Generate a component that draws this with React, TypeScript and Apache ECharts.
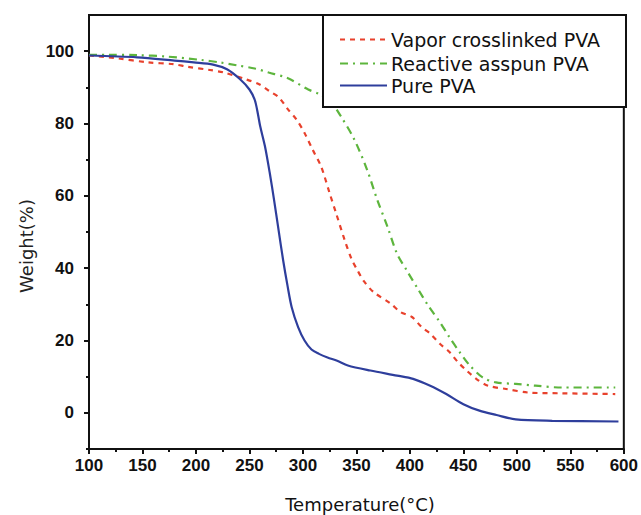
import React, { useEffect, useRef } from "react";
import * as echarts from "echarts";

const xTicks = [100, 150, 200, 250, 300, 350, 400, 450, 500, 550, 600];
const yMajorTicks = [0, 20, 40, 60, 80, 100];
const yMinorTicks = [-10, 10, 30, 50, 70, 90];

const seriesNames = ["Vapor crosslinked PVA", "Reactive asspun PVA", "Pure PVA"];

const vaporCrosslinked: [number, number][] = [
  [100, 98.8], [127, 98], [155, 96.9], [179, 96.4], [192, 95.7], [213, 94.8], [226, 94.1],
  [247, 92.2], [259.5, 90.8], [268.5, 89], [277.5, 87.2], [286, 83.9], [294, 81.1],
  [301.5, 77.4], [309, 72.8], [317, 68.1], [325, 60.7], [331, 55.2], [339, 47.8],
  [345.5, 42.5], [351, 39.4], [357, 36.4], [366, 33.4], [382, 30.2], [391, 27.9],
  [402, 26.5], [411, 23.7], [419, 21.9], [428, 19.1], [437, 16.8], [445, 14], [453, 11.7],
  [462, 9.4], [473, 7.5], [490, 6.6], [511, 5.6], [542, 5.4], [592, 5.2],
];

const reactiveAsspun: [number, number][] = [
  [100, 99], [118, 99], [145, 98.9], [173, 98.5], [204, 97.6], [222, 96.9], [238, 96.1],
  [255, 95.2], [268, 94.1], [286, 92.5], [305, 89.4], [315.5, 88.1], [326, 86],
  [335.5, 82], [348, 75.6], [360, 67.2], [369.5, 58.9], [379, 51.5], [388, 44],
  [397, 39.4], [408, 34], [417, 29.7], [428, 25.1], [437, 20.9], [446.5, 16.8],
  [456, 13.1], [468, 9.8], [480.5, 8.4], [499, 8], [517.5, 7.5], [542, 7], [592, 7],
];

const purePVA: [number, number][] = [
  [100, 98.8], [145, 98.3], [180, 97.4], [198, 96.9], [216, 96.3], [229, 95], [241, 92.3],
  [250, 89.4], [255, 86.5], [258, 82.5], [260, 79.3], [264.5, 73.7], [269, 66.3],
  [273, 58.9], [277, 51], [281.5, 42.2], [285.5, 35.3], [289.5, 29.2], [295.5, 23.7],
  [301.5, 20], [308, 17.5], [315, 16.3], [323, 15.3], [332, 14.4], [342, 13.1],
  [363, 11.7], [388, 10.3], [403, 9.4], [419, 7.5], [434, 5.2], [450, 2.4], [465, 0.6],
  [481, -0.6], [499, -1.8], [533, -2.2], [595, -2.4],
];

const RED = "#e8412c";
const GREEN = "#5db53d";
const BLUE = "#2e3e9c";
const COLORS = [RED, GREEN, BLUE];
const DASHES: (number[] | null)[] = [[5, 5], [8, 5, 2, 5], null];

export default function App() {
  const ref = useRef<HTMLDivElement>(null);
  useEffect(() => {
    if (!ref.current) return;
    const chart = echarts.init(ref.current, undefined, { renderer: "svg" });
    const labelFont = {
      fontFamily: "'Liberation Sans Narrow', 'Liberation Sans', Arial, sans-serif",
      fontWeight: "bold" as const,
      fontSize: 17,
      color: "#111",
    };
    const legendFont = "'DejaVu Sans', Verdana, sans-serif";
    const legendRows = [39.5, 63.5, 85.5];
    const legendGraphics: any[] = [];
    seriesNames.forEach((name, i) => {
      legendGraphics.push({
        type: "line",
        z: 6,
        shape: { x1: 340, y1: legendRows[i], x2: 387, y2: legendRows[i] },
        style: {
          stroke: COLORS[i],
          lineWidth: 2.2,
          lineDash: DASHES[i] || undefined,
        },
      });
      legendGraphics.push({
        type: "text",
        z: 6,
        x: 391,
        y: legendRows[i],
        style: {
          text: name,
          align: "left",
          verticalAlign: "middle",
          fontFamily: legendFont,
          fontSize: 19,
          fill: "#111",
        },
      });
    });
    chart.setOption({
      animation: false,
      backgroundColor: "#fff",
      grid: {
        left: 89,
        right: 12,
        top: 15,
        bottom: 66,
        show: true,
        borderColor: "#111",
        borderWidth: 2,
      },
      xAxis: {
        type: "value",
        min: 100,
        max: 600,
        interval: 50,
        splitLine: { show: false },
        axisLine: { show: true, onZero: false, lineStyle: { color: "#111", width: 2 } },
        axisTick: { show: true, length: 5, lineStyle: { color: "#111", width: 2 } },
        minorTick: { show: true, splitNumber: 2, length: 3, lineStyle: { color: "#111", width: 2 } },
        axisLabel: { ...labelFont, margin: 8, customValues: xTicks },
      },
      yAxis: [
        {
          type: "value",
          min: -10,
          max: 110,
          splitLine: { show: false },
          axisLine: { show: true, lineStyle: { color: "#111", width: 2 } },
          axisTick: { show: true, length: 5, lineStyle: { color: "#111", width: 2 }, customValues: yMajorTicks },
          axisLabel: { ...labelFont, margin: 15, customValues: yMajorTicks },
        },
        {
          type: "value",
          min: -10,
          max: 110,
          position: "left",
          splitLine: { show: false },
          axisLine: { show: false },
          axisTick: { show: true, length: 3, lineStyle: { color: "#111", width: 2 }, customValues: yMinorTicks },
          axisLabel: { show: false, customValues: yMinorTicks },
        },
      ],
      graphic: [
        {
          type: "rect",
          z: 5,
          shape: { x: 323, y: 15, width: 303, height: 92 },
          style: { fill: "#fff", stroke: "#111", lineWidth: 2 },
        },
        ...legendGraphics,
        {
          type: "text",
          x: 360,
          y: 504,
          z: 5,
          style: {
            text: "Temperature(°C)",
            align: "center",
            verticalAlign: "middle",
            fontFamily: legendFont,
            fontSize: 18,
            fill: "#111",
          },
        },
        {
          type: "text",
          x: 26,
          y: 246,
          rotation: Math.PI / 2,
          z: 5,
          style: {
            text: "Weight(%)",
            align: "center",
            verticalAlign: "middle",
            fontFamily: legendFont,
            fontSize: 18,
            fill: "#222",
          },
        },
      ],
      series: [
        {
          name: seriesNames[0],
          type: "line",
          data: vaporCrosslinked,
          symbol: "none",
          smooth: 0.3,
          lineStyle: { color: RED, width: 2.2, type: DASHES[0] },
          itemStyle: { color: RED },
        },
        {
          name: seriesNames[1],
          type: "line",
          data: reactiveAsspun,
          symbol: "none",
          smooth: 0.3,
          lineStyle: { color: GREEN, width: 2.2, type: DASHES[1] },
          itemStyle: { color: GREEN },
        },
        {
          name: seriesNames[2],
          type: "line",
          data: purePVA,
          symbol: "none",
          smooth: 0.3,
          lineStyle: { color: BLUE, width: 2.2, type: "solid" },
          itemStyle: { color: BLUE },
        },
      ],
    });
    return () => chart.dispose();
  }, []);
  return <div ref={ref} style={{ width: 641, height: 515, position: "absolute", left: 0, top: 0 }} />;
}
